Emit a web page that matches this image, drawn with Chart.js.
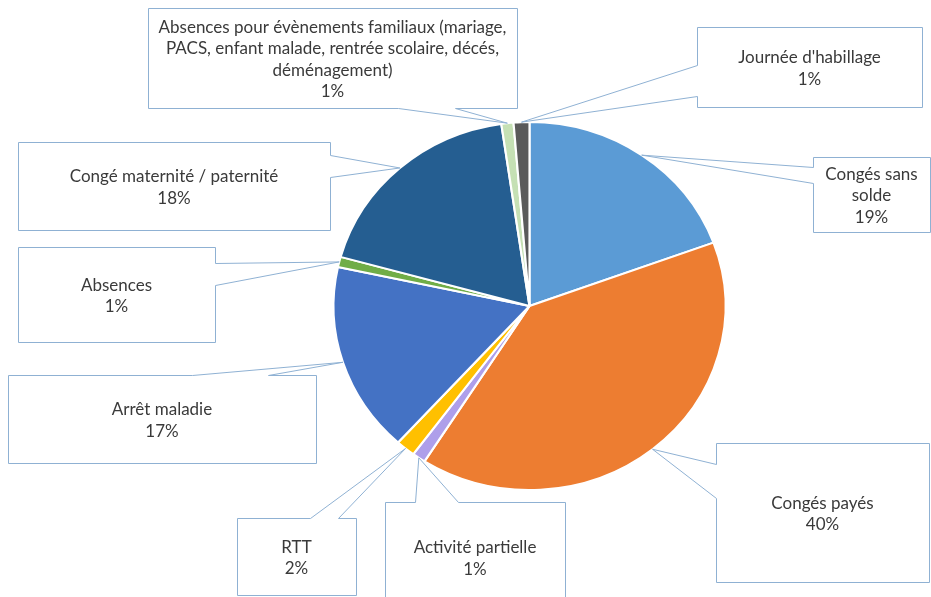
<!DOCTYPE html>
<html><head><meta charset="utf-8">
<script src="https://cdn.jsdelivr.net/npm/chart.js@4.4.1/dist/chart.umd.min.js"></script>
<style>html,body{margin:0;padding:0;background:#fff;overflow:hidden}canvas{display:block}</style>
</head><body>
<canvas id="c" width="931" height="597"></canvas>
<script>
// ---- data ----
const categories = [
  "Congés sans solde",
  "Congés payés",
  "Activité partielle",
  "RTT",
  "Arrêt maladie",
  "Absences",
  "Congé maternité / paternité",
  "Absences pour évènements familiaux (mariage, PACS, enfant malade, rentrée scolaire, décés, déménagement)",
  "Journée d'habillage"
];
const values = [19.4, 39.6, 1.1, 1.6, 16.7, 0.9, 18.4, 1.0, 1.3];

// ---- style / layout ----
const sliceColors = ["#5B9BD5","#ED7D31","#AE9FEA","#FFC000","#4472C4","#70AD47","#255E91","#C5E0B4","#5A5A5A"];
const FONT = '17px Lato';
const TEXT_COLOR = '#3a3a3a';
const BOX_BORDER = '#8FB1D3';
const LINE_H = 21.5;
const SX = 196 / 184; // horizontal stretch of the pie
// box: [x, y, w, h], side of wedge, base positions along that side, wrap width
const calloutLayout = [
  {box:[813,157,117,75],  side:'left',   base:[167,183], wrap:108},
  {box:[716,443,213,139], side:'left',   base:[464,498], wrap:190},
  {box:[385,502,180,110], side:'top',    base:[415,458], wrap:170},
  {box:[237,518,119,77],  side:'top',    base:[310,338], wrap:110},
  {box:[8,375,308,88],    side:'top',    base:[192,268], wrap:290},
  {box:[18,247,197,95],   side:'right',  base:[263,285], wrap:180},
  {box:[18,142,312,88],   side:'right',  base:[155,177], wrap:300},
  {box:[148,8,369,100],   side:'bottom', base:[398,455], wrap:366},
  {box:[697,27,225,80],   side:'left',   base:[65,96],   wrap:210}
];

function wrapText(ctx, text, maxW){
  const words = text.split(' ');
  const lines = [];
  let cur = '';
  for (const w of words){
    const t = cur ? cur + ' ' + w : w;
    if (cur && ctx.measureText(t).width > maxW){ lines.push(cur); cur = w; }
    else cur = t;
  }
  if (cur) lines.push(cur);
  return lines;
}

const stretchPlugin = {
  id: 'stretch',
  beforeDatasetsDraw(chart){
    const a = chart.getDatasetMeta(0).data[0];
    const ctx = chart.ctx;
    ctx.save();
    ctx.translate(a.x, a.y); ctx.scale(SX, 1); ctx.translate(-a.x, -a.y);
  },
  afterDatasetsDraw(chart){ chart.ctx.restore(); }
};

const calloutPlugin = {
  id: 'callouts',
  afterDraw(chart){
    const ctx = chart.ctx;
    const meta = chart.getDatasetMeta(0);
    const data = chart.data.datasets[0].data;
    const total = data.reduce((s,v)=>s+v,0);
    ctx.save();
    ctx.font = FONT;
    meta.data.forEach((arc, i) => {
      const L = calloutLayout[i];
      const mid = (arc.startAngle + arc.endAngle) / 2;
      const tx = arc.x + Math.cos(mid) * arc.outerRadius * SX;
      const ty = arc.y + Math.sin(mid) * arc.outerRadius;
      const [x, y, w, h] = L.box;
      const X0 = x + 0.5, Y0 = y + 0.5, X1 = x + w + 0.5, Y1 = y + h + 0.5;
      const [a, b] = L.base;
      ctx.beginPath();
      ctx.moveTo(X0, Y0);
      if (L.side === 'top'){ ctx.lineTo(a+0.5, Y0); ctx.lineTo(tx, ty); ctx.lineTo(b+0.5, Y0); }
      ctx.lineTo(X1, Y0);
      if (L.side === 'right'){ ctx.lineTo(X1, a+0.5); ctx.lineTo(tx, ty); ctx.lineTo(X1, b+0.5); }
      ctx.lineTo(X1, Y1);
      if (L.side === 'bottom'){ ctx.lineTo(b+0.5, Y1); ctx.lineTo(tx, ty); ctx.lineTo(a+0.5, Y1); }
      ctx.lineTo(X0, Y1);
      if (L.side === 'left'){ ctx.lineTo(X0, b+0.5); ctx.lineTo(tx, ty); ctx.lineTo(X0, a+0.5); }
      ctx.closePath();
      ctx.fillStyle = '#ffffff';
      ctx.fill();
      ctx.strokeStyle = BOX_BORDER;
      ctx.lineWidth = 1;
      ctx.stroke();
      // text
      const lines = wrapText(ctx, chart.data.labels[i], L.wrap);
      lines.push(Math.round(data[i] / total * 100) + '%');
      const cx = x + w / 2;
      const cy = y + h / 2 + 1.5;
      ctx.fillStyle = TEXT_COLOR;
      ctx.textAlign = 'center';
      ctx.textBaseline = 'middle';
      lines.forEach((ln, k) => {
        ctx.fillText(ln, cx, cy + (k - (lines.length - 1) / 2) * LINE_H);
      });
    });
    ctx.restore();
  }
};

new Chart(document.getElementById('c'), {
  type: 'pie',
  data: {
    labels: categories,
    datasets: [{
      data: values,
      backgroundColor: sliceColors,
      borderColor: '#ffffff',
      borderWidth: 2,
      hoverOffset: 0
    }]
  },
  options: {
    responsive: false,
    devicePixelRatio: 1,
    animation: false,
    events: [],
    clip: false,
    layout: { padding: { left: 344, right: 216, top: 121, bottom: 106 } },
    plugins: { legend: { display: false }, tooltip: { enabled: false } }
  },
  plugins: [stretchPlugin, calloutPlugin]
});
</script>
</body></html>
